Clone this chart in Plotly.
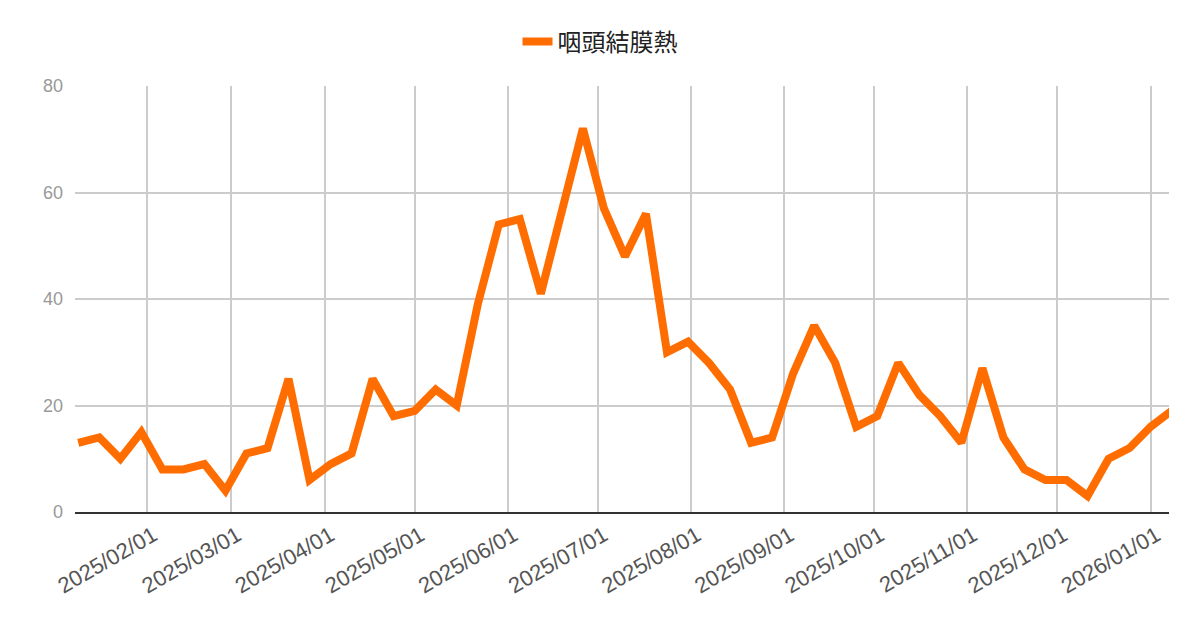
import datetime as dt
import plotly.graph_objects as go

# Weekly counts (weeks starting 2025-01-09)
start_date = dt.date(2025, 1, 9)
values = [13, 14, 10, 15, 8, 8, 9, 4, 11, 12,
          25, 6, 9, 11, 25, 18, 19, 23, 20, 39,
          54, 55, 41, 57, 72, 57, 48, 56, 30, 32,
          28, 23, 13, 14, 26, 35, 28, 16, 18, 28,
          22, 18, 13, 27, 14, 8, 6, 6, 3, 10,
          12, 16, 19]
dates = [start_date + dt.timedelta(days=7 * i) for i in range(len(values))]
series_name = "咽頭結膜熱"

fig = go.Figure()
fig.add_trace(go.Scatter(
    x=dates, y=values, mode="lines", name=series_name,
    line=dict(color="#ff6d01", width=8),
    showlegend=True,
))

# page has an 8px body margin, so the figure is laid out 8px up/left
fig.update_layout(
    width=1200, height=626,
    paper_bgcolor="white", plot_bgcolor="white",
    margin=dict(l=67, r=39, t=78, b=122, autoexpand=False),
    font=dict(family="Liberation Sans, Arial, Noto Sans CJK JP", size=18, color="#555"),
    showlegend=True,
    legend=dict(
        orientation="h", x=592 / 1200, xanchor="center", xref="container",
        y=1 - 34 / 626, yanchor="middle", yref="container",
        font=dict(size=24, color="#222", family="Liberation Sans, Noto Sans CJK JP"),
    ),
    xaxis=dict(
        type="date", automargin=False,
        range=["2025-01-07 22:00", "2026-01-07 03:00"],
        tick0="2025-01-01", dtick="M1", tickformat="%Y/%m/%d",
        tickangle=-30, ticklabelshift=6,
        showgrid=True, gridcolor="#cccccc", gridwidth=1.5,
        showline=True, linecolor="#333333", linewidth=2,
        ticks="", tickfont=dict(size=22, color="#555"),
        zeroline=False,
    ),
    yaxis=dict(
        range=[0, 80], dtick=20, automargin=False,
        showgrid=True, gridcolor="#cccccc", gridwidth=1.5,
        zeroline=False, showline=False, ticklabelstandoff=11,
        ticks="", ticklen=0, tickfont=dict(size=18, color="#999"),
    ),
)

fig.write_html("out.html")
